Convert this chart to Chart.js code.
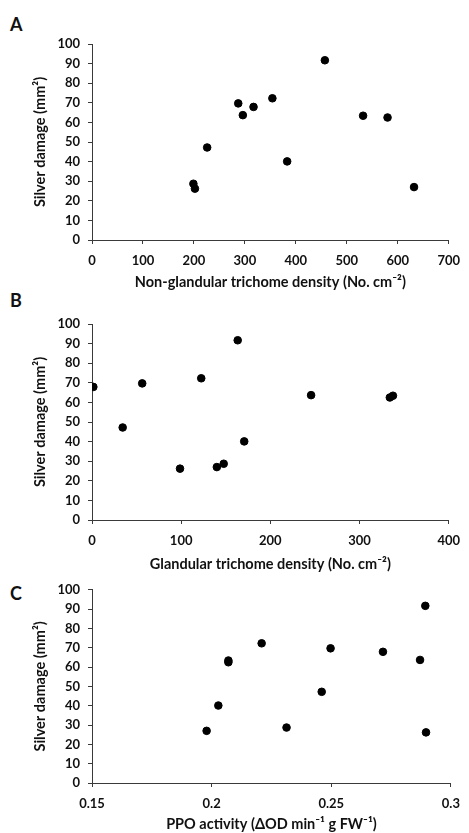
<!DOCTYPE html>
<html>
<head>
  <title>Silver damage vs trichomes and PPO</title>
  <script src="https://cdn.jsdelivr.net/npm/chart.js"></script>
  <style>
    body {
      margin: 0;
      background: #fff;
      font-family: Lato, sans-serif;
    }
    #page {
      position: relative;
      width: 469px;
      height: 833px;
      overflow: hidden;
    }
    .panel {
      position: absolute;
      left: 0;
      width: 469px;
    }
    .letter {
      position: absolute;
      left: 10px;
      font-size: 18px;
      line-height: 18px;
      font-weight: bold;
      color: #111;
    }
  </style>
</head>
<body>
<div id="page">
  <div class="letter" style="top:15px;">A</div>
  <div class="letter" style="top:291px;">B</div>
  <div class="letter" style="top:584px;">C</div>

  <div class="panel" style="top:0px; height:292px;"><canvas id="chartA"></canvas></div>
  <div class="panel" style="top:292px; height:282px;"><canvas id="chartB"></canvas></div>
  <div class="panel" style="top:574px; height:259px;"><canvas id="chartC"></canvas></div>
</div>

<script>
  // one entry per genotype, same order in every array
  const silverDamage = [28.7, 26.2, 47.2, 69.7, 63.7, 67.9, 72.3, 40.1, 91.7, 63.4, 62.5, 27.0];
  const nonGlandular = [199, 202, 226, 287, 296, 317, 354, 383, 457, 532, 580, 632];
  const glandular = [147.7, 98.7, 34.4, 56.3, 245.7, 1.5, 122.5, 170.7, 163.4, 337.5, 334, 140];
  const ppoActivity = [0.2313, 0.2896, 0.246, 0.2497, 0.2871, 0.2716, 0.2209, 0.2028, 0.2893, 0.207, 0.207, 0.1979];

  const yTitle = 'Silver damage (mm²)';
  const textColor = '#111';
  const axisColor = '#3a3a3a';
  const tickFont = { family: 'Lato, sans-serif', size: 13, weight: 'bold' };
  const titleFont = { family: 'Lato, sans-serif', size: 14.5, weight: 'bold' };

  function makeChart(id, xs, xRange, xTitle, padTop, xHeight, titleBottom, fmt) {
    const points = xs.map((x, i) => ({ x: x, y: silverDamage[i] }));
    return new Chart(document.getElementById(id), {
      type: 'scatter',
      data: {
        datasets: [{
          data: points,
          backgroundColor: '#000',
          borderColor: '#000',
          pointRadius: 3.8,
          pointHoverRadius: 3.8
        }]
      },
      options: {
        responsive: true,
        maintainAspectRatio: false,
        animation: false,
        layout: { padding: { top: padTop, right: 13, left: 0, bottom: 0 } },
        plugins: { legend: { display: false }, tooltip: { enabled: false } },
        scales: {
          x: {
            type: 'linear',
            min: xRange[0],
            max: xRange[1],
            ticks: {
              stepSize: xRange[2],
              color: textColor,
              font: tickFont,
              padding: 9,
              maxRotation: 0,
              callback: fmt
            },
            grid: { drawOnChartArea: false, tickLength: 4, color: axisColor },
            border: { color: axisColor },
            title: { display: true, text: xTitle, color: textColor, font: titleFont, padding: { top: 0, bottom: titleBottom } },
            afterFit: s => { s.height = xHeight; }
          },
          y: {
            min: 0,
            max: 100,
            ticks: { stepSize: 10, color: textColor, font: tickFont, padding: 8 },
            grid: { drawOnChartArea: false, tickLength: 4, color: axisColor },
            border: { color: axisColor },
            title: { display: true, text: yTitle, color: textColor, font: titleFont, padding: { top: 32, bottom: 0 } },
            afterFit: s => { s.width = 92; }
          }
        }
      }
    });
  }

  makeChart('chartA', nonGlandular, [0, 700, 100], 'Non-glandular trichome density (No. cm⁻²)', 44, 52, 1, v => v);
  makeChart('chartB', glandular, [0, 400, 100], 'Glandular trichome density (No. cm⁻²)', 32, 54, 1, v => v);
  makeChart('chartC', ppoActivity, [0.15, 0.3, 0.05], 'PPO activity (ΔOD min⁻¹ g FW⁻¹)', 13, 50, 0,
    v => String(Number(v.toFixed(2))));
</script>
</body>
</html>
